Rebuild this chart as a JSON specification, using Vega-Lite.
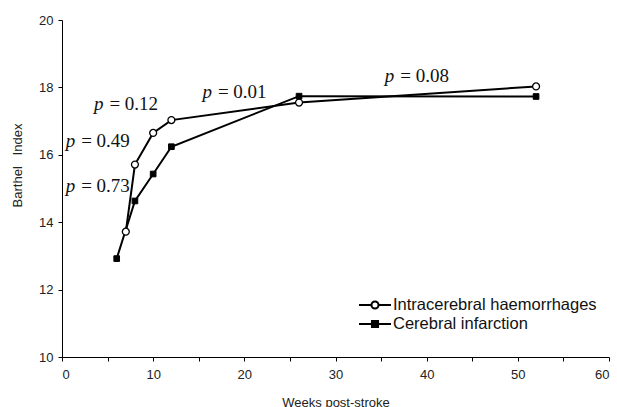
{
  "$schema": "https://vega.github.io/schema/vega-lite/v6.json",
  "autosize": {"type": "none"},
  "width": 547,
  "height": 337,
  "padding": {"left": 62, "top": 20, "right": 8, "bottom": 50},
  "background": "white",
  "config": {
    "view": {"stroke": null},
    "axis": {
      "domainColor": "black",
      "domainWidth": 1,
      "tickColor": "black",
      "tickSize": 4,
      "grid": false,
      "labelFont": "Liberation Sans",
      "labelFontSize": 13,
      "labelColor": "#222",
      "titleFont": "Liberation Sans",
      "titleFontSize": 13,
      "titleFontWeight": "normal",
      "titleColor": "#222"
    }
  },
  "datasets": {
    "series": [
      {"series": "Intracerebral haemorrhages", "week": 7, "bi": 13.72},
      {"series": "Intracerebral haemorrhages", "week": 8, "bi": 15.71},
      {"series": "Intracerebral haemorrhages", "week": 10, "bi": 16.65},
      {"series": "Intracerebral haemorrhages", "week": 12, "bi": 17.03},
      {"series": "Intracerebral haemorrhages", "week": 26, "bi": 17.55},
      {"series": "Intracerebral haemorrhages", "week": 52, "bi": 18.03},
      {"series": "Cerebral infarction", "week": 6, "bi": 12.92},
      {"series": "Cerebral infarction", "week": 8, "bi": 14.63},
      {"series": "Cerebral infarction", "week": 10, "bi": 15.43},
      {"series": "Cerebral infarction", "week": 12, "bi": 16.24},
      {"series": "Cerebral infarction", "week": 26, "bi": 17.74},
      {"series": "Cerebral infarction", "week": 52, "bi": 17.73}
    ],
    "notes": [
      {"week": 5.2, "bi": 17.34, "label": "= 0.12"},
      {"week": 2.1, "bi": 16.22, "label": "= 0.49"},
      {"week": 2.1, "bi": 14.9, "label": "= 0.73"},
      {"week": 17.1, "bi": 17.68, "label": "= 0.01"},
      {"week": 37.1, "bi": 18.15, "label": "= 0.08"}
    ]
  },
  "layer": [
    {
      "data": {"name": "series"},
      "mark": {"type": "line", "color": "black", "strokeWidth": 2},
      "encoding": {
        "x": {
          "field": "week", "type": "quantitative",
          "scale": {"domain": [0, 60], "nice": false, "zero": false},
          "axis": {
            "title": "Weeks post-stroke",
            "values": [0, 5, 10, 15, 20, 25, 30, 35, 40, 45, 50, 55, 60],
            "labelExpr": "datum.value % 10 === 0 ? datum.label : ''",
            "labelPadding": 7,
            "titlePadding": 15
          }
        },
        "y": {
          "field": "bi", "type": "quantitative",
          "scale": {"domain": [10, 20], "nice": false, "zero": false},
          "axis": {
            "title": "Barthel\u00a0\u00a0\u00a0Index",
            "values": [10, 11, 12, 13, 14, 15, 16, 17, 18, 19, 20],
            "labelExpr": "datum.value % 2 === 0 ? datum.label : ''",
            "labelPadding": 5,
            "titlePadding": 14,
            "titleY": 145
          }
        },
        "detail": {"field": "series"}
      }
    },
    {
      "data": {"name": "series"},
      "transform": [{"filter": "datum.series === 'Intracerebral haemorrhages'"}],
      "mark": {"type": "point", "shape": "circle", "filled": true, "fill": "white", "stroke": "black", "strokeWidth": 1.3, "size": 48, "opacity": 1},
      "encoding": {
        "x": {"field": "week", "type": "quantitative"},
        "y": {"field": "bi", "type": "quantitative"}
      }
    },
    {
      "data": {"name": "series"},
      "transform": [{"filter": "datum.series === 'Cerebral infarction'"}],
      "mark": {"type": "point", "shape": "square", "filled": true, "fill": "black", "stroke": "black", "strokeWidth": 1, "size": 32, "opacity": 1},
      "encoding": {
        "x": {"field": "week", "type": "quantitative"},
        "y": {"field": "bi", "type": "quantitative"}
      }
    },
    {
      "data": {"name": "series"},
      "mark": {"type": "point", "filled": true, "opacity": 0, "strokeWidth": 2},
      "encoding": {
        "x": {"field": "week", "type": "quantitative"},
        "y": {"field": "bi", "type": "quantitative"},
        "shape": {
          "field": "series", "type": "nominal",
          "scale": {
            "domain": ["Intracerebral haemorrhages", "Cerebral infarction"],
            "range": [
              "M-2,0H-0.44M0.44,0H2M0.44,0A0.44,0.44,0,1,1,-0.44,0A0.44,0.44,0,1,1,0.44,0Z",
              "M-2,0H2M-0.38,-0.38H0.38V0.38H-0.38Z"
            ]
          },
          "legend": {
            "title": null,
            "orient": "none",
            "legendX": 304,
            "legendY": 276,
            "symbolSize": 256,
            "symbolOpacity": 1,
            "symbolStrokeWidth": 2,
            "labelFont": "Liberation Sans",
            "labelFontSize": 16.5,
            "labelColor": "#111",
            "labelLimit": 0,
            "labelOffset": 9,
            "rowPadding": 1
          }
        },
        "fill": {
          "field": "series", "type": "nominal",
          "scale": {
            "domain": ["Intracerebral haemorrhages", "Cerebral infarction"],
            "range": ["white", "black"]
          }
        },
        "stroke": {
          "field": "series", "type": "nominal",
          "scale": {
            "domain": ["Intracerebral haemorrhages", "Cerebral infarction"],
            "range": ["black", "black"]
          }
        }
      }
    },
    {
      "data": {"name": "notes"},
      "mark": {"type": "text", "text": "p", "font": "Liberation Serif", "fontStyle": "italic", "fontSize": 19, "align": "right", "baseline": "alphabetic", "dx": -6, "color": "#111"},
      "encoding": {
        "x": {"field": "week", "type": "quantitative"},
        "y": {"field": "bi", "type": "quantitative"}
      }
    },
    {
      "data": {"name": "notes"},
      "mark": {"type": "text", "font": "Liberation Serif", "fontSize": 19, "align": "left", "baseline": "alphabetic", "color": "#111"},
      "encoding": {
        "x": {"field": "week", "type": "quantitative"},
        "y": {"field": "bi", "type": "quantitative"},
        "text": {"field": "label"}
      }
    }
  ]
}
